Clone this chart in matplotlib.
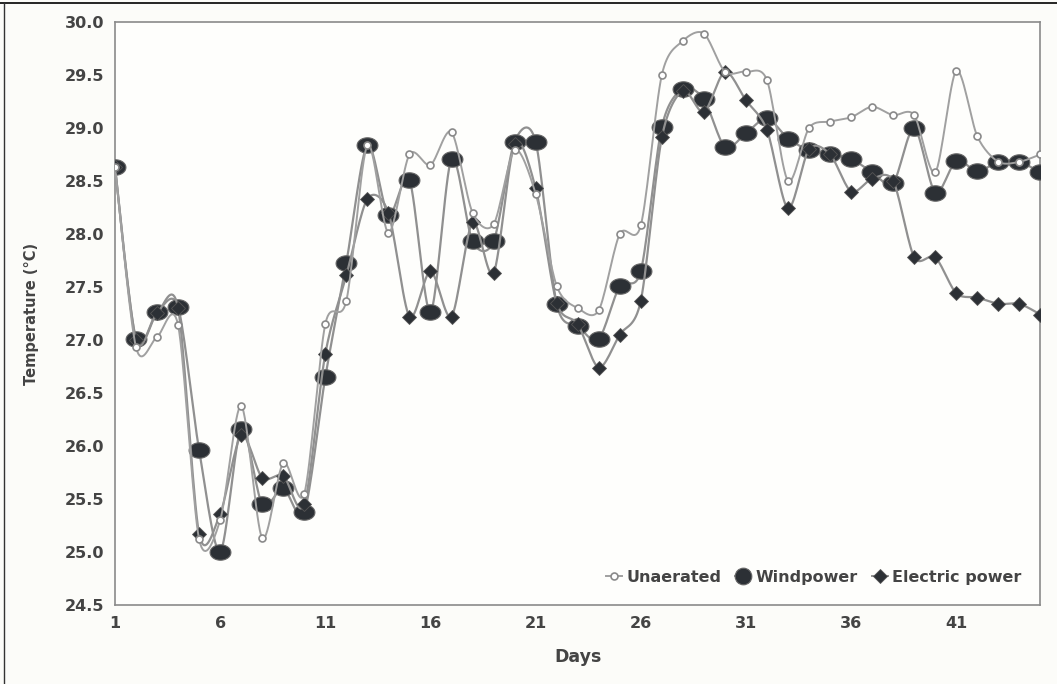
import numpy as np
import matplotlib
matplotlib.use('Agg')
from matplotlib import pyplot as plt
from matplotlib.path import Path
from matplotlib.lines import Line2D

# daily temperature readings (degrees C)
days = np.arange(1, 46)
unaerated = [28.63, 26.93, 27.03, 27.14, 25.12, 25.30, 26.38, 25.13, 25.84, 25.55,
             27.15, 27.37, 28.84, 28.01, 28.75, 28.65, 28.96, 28.20, 28.09, 28.79,
             28.38, 27.51, 27.30, 27.28, 28.00, 28.08, 29.50, 29.82, 29.89, 29.53,
             29.53, 29.45, 28.50, 29.00, 29.06, 29.10, 29.20, 29.12, 29.12, 28.58,
             29.54, 28.92, 28.68, 28.68, 28.75]
windpower = [28.63, 27.01, 27.26, 27.31, 25.96, 25.00, 26.16, 25.45, 25.60, 25.38,
             26.65, 27.73, 28.84, 28.18, 28.51, 27.26, 28.71, 27.93, 27.93, 28.87,
             28.87, 27.34, 27.13, 27.01, 27.51, 27.65, 29.01, 29.37, 29.27, 28.82,
             28.95, 29.09, 28.90, 28.79, 28.75, 28.71, 28.58, 28.48, 29.00, 28.39,
             28.69, 28.59, 28.68, 28.68, 28.58]
electric = [28.63, 27.00, 27.25, 27.30, 25.17, 25.36, 26.10, 25.70, 25.72, 25.45,
            26.87, 27.61, 28.33, 28.20, 27.22, 27.65, 27.22, 28.11, 27.63, 28.85,
            28.43, 27.35, 27.15, 26.74, 27.05, 27.37, 28.91, 29.35, 29.15, 29.53,
            29.26, 28.98, 28.24, 28.80, 28.75, 28.40, 28.52, 28.50, 27.78, 27.78,
            27.44, 27.40, 27.34, 27.34, 27.24]
xticks = [1, 6, 11, 16, 21, 26, 31, 36, 41]
yticks = np.arange(24.5, 30.01, 0.5)


def smooth(x, y, n=16, k=7.0):
    # spreadsheet style smoothed line (bezier through the points)
    pts = np.column_stack([x, y]).astype(float)
    p = np.vstack([pts[0], pts, pts[-1]])
    t = np.linspace(0, 1, n, endpoint=False)[:, None]
    segs = []
    for i in range(1, len(p) - 2):
        p0, p1, p2, p3 = p[i - 1], p[i], p[i + 1], p[i + 2]
        c1 = p1 + (p2 - p0) / k
        c2 = p2 - (p3 - p1) / k
        segs.append((1 - t)**3 * p1 + 3 * (1 - t)**2 * t * c1
                    + 3 * (1 - t) * t**2 * c2 + t**3 * p2)
    segs.append(pts[-1:])
    s = np.vstack(segs)
    return s[:, 0], s[:, 1]


theta = np.linspace(0, 2 * np.pi, 60)
ellipse = Path(np.column_stack([1.35 * np.cos(theta), np.sin(theta)]), closed=True)

plt.rcParams['font.family'] = ['DejaVu Sans']
txt = '#444444'
line_col = '#909090'
dark = '#2c3035'

fig = plt.figure(figsize=(10.57, 6.84), dpi=100, facecolor='#fcfcf9')
ax = fig.add_axes([0.1088, 0.1155, 0.8755, 0.8525])
ax.set_facecolor('#fefefc')

# windpower at the bottom, unaerated on top (gives the ringed overlaps)
sx, sy = smooth(days, windpower)
ax.plot(sx, sy, color=line_col, lw=1.6, zorder=2)
ax.plot(days, windpower, ls='none', marker=ellipse, ms=15, mfc=dark,
        mec='#666666', mew=0.8, zorder=3)

sx, sy = smooth(days, electric)
ax.plot(sx, sy, color=line_col, lw=1.6, zorder=4)
ax.plot(days, electric, ls='none', marker='D', ms=7.5, mfc=dark,
        mec='#555555', mew=0.6, zorder=5)

sx, sy = smooth(days, unaerated)
ax.plot(sx, sy, color='#a0a0a0', lw=1.4, zorder=6)
ax.plot(days, unaerated, ls='none', marker='o', ms=5, mfc='white',
        mec='#8a8a8a', mew=1.2, zorder=7)

ax.set_xlim(1, 45)
ax.set_ylim(24.5, 30.0)
ax.set_xticks(xticks)
ax.set_yticks(yticks)
ax.set_yticklabels(['%.1f' % v for v in yticks])
ax.tick_params(length=0, labelsize=11.5, labelcolor=txt, pad=8)
for lab in ax.get_xticklabels() + ax.get_yticklabels():
    lab.set_fontweight('bold')
for sp in ax.spines.values():
    sp.set_color('#8a8a8a')
    sp.set_linewidth(1.2)

ax.set_xlabel('Days', fontsize=12.5, fontweight='bold', color=txt, labelpad=12)
ax.set_ylabel('Temperature (°C)', fontsize=10.5, fontweight='bold', color=txt,
              labelpad=18)

handles = [
    Line2D([], [], color='#a0a0a0', lw=1.4, marker='o', ms=5, mfc='white',
           mec='#8a8a8a', mew=1.2),
    Line2D([], [], color=line_col, lw=1.4, marker='o', ms=12, mfc=dark,
           mec='#666666', mew=0.8),
    Line2D([], [], color=line_col, lw=1.4, marker='D', ms=7.5, mfc=dark,
           mec='#555555', mew=0.6),
]
leg = ax.legend(handles, ['Unaerated', 'Windpower', 'Electric power'],
                loc='lower right', bbox_to_anchor=(0.995, 0.01), ncol=3,
                frameon=False, handlelength=1.0, handletextpad=0.25,
                columnspacing=0.9, prop={'weight': 'bold', 'size': 11.5})
for t in leg.get_texts():
    t.set_color(txt)

# outer frame of the scanned figure
fig.add_artist(Line2D([0, 1], [0.995, 0.995], transform=fig.transFigure,
                      color='black', lw=1.2))
fig.add_artist(Line2D([0.004, 0.004], [0, 0.995], transform=fig.transFigure,
                      color='#333333', lw=1.0))

fig.savefig('out.png', dpi=100, facecolor=fig.get_facecolor())
